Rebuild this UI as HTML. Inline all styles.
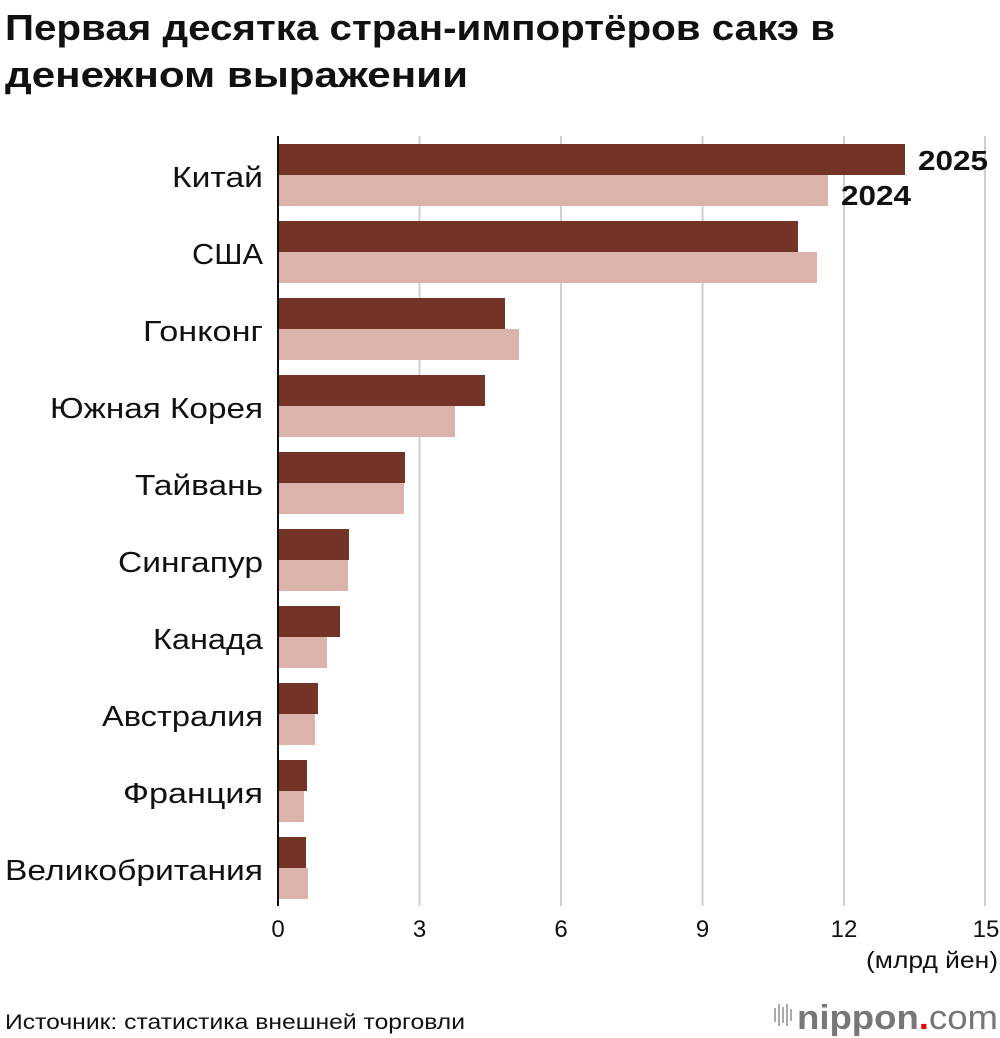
<!DOCTYPE html>
<html><head><meta charset="utf-8"><style>
html,body{margin:0;padding:0;background:#fff;}
svg{display:block;font-family:"Liberation Sans",sans-serif;}
</style></head><body>
<svg width="1000" height="1038" viewBox="0 0 1000 1038" xmlns="http://www.w3.org/2000/svg">
<text x="5" y="40" font-size="36" font-weight="bold" fill="#111" textLength="830" lengthAdjust="spacingAndGlyphs">Первая десятка стран-импортёров сакэ в</text>
<text x="5" y="87" font-size="36" font-weight="bold" fill="#111" textLength="463" lengthAdjust="spacingAndGlyphs">денежном выражении</text>
<g stroke="#cfcfcf" stroke-width="2">
<line x1="419.5" y1="136" x2="419.5" y2="906"/>
<line x1="561" y1="136" x2="561" y2="906"/>
<line x1="702.5" y1="136" x2="702.5" y2="906"/>
<line x1="844" y1="136" x2="844" y2="906"/>
<line x1="985" y1="136" x2="985" y2="906"/>
</g>
<g>
<rect x="279" y="144" width="626" height="31" fill="#733427"/><rect x="279" y="175" width="549" height="31" fill="#dbb3aa"/>
<rect x="279" y="221" width="519" height="31" fill="#733427"/><rect x="279" y="252" width="538" height="31" fill="#dbb3aa"/>
<rect x="279" y="298" width="226" height="31" fill="#733427"/><rect x="279" y="329" width="240" height="31" fill="#dbb3aa"/>
<rect x="279" y="375" width="206" height="31" fill="#733427"/><rect x="279" y="406" width="176" height="31" fill="#dbb3aa"/>
<rect x="279" y="452" width="126" height="31" fill="#733427"/><rect x="279" y="483" width="125" height="31" fill="#dbb3aa"/>
<rect x="279" y="529" width="70" height="31" fill="#733427"/><rect x="279" y="560" width="69" height="31" fill="#dbb3aa"/>
<rect x="279" y="606" width="61" height="31" fill="#733427"/><rect x="279" y="637" width="48" height="31" fill="#dbb3aa"/>
<rect x="279" y="683" width="39" height="31" fill="#733427"/><rect x="279" y="714" width="36" height="31" fill="#dbb3aa"/>
<rect x="279" y="760" width="28" height="31" fill="#733427"/><rect x="279" y="791" width="25" height="31" fill="#dbb3aa"/>
<rect x="279" y="837" width="27" height="31" fill="#733427"/><rect x="279" y="868" width="29" height="31" fill="#dbb3aa"/>
</g>
<line x1="278" y1="136" x2="278" y2="906" stroke="#111" stroke-width="2"/>
<text x="918" y="170" font-size="28" font-weight="bold" fill="#111" textLength="70" lengthAdjust="spacingAndGlyphs">2025</text>
<text x="841" y="205" font-size="28" font-weight="bold" fill="#111" textLength="70" lengthAdjust="spacingAndGlyphs">2024</text>
<g font-size="29" fill="#111" text-anchor="end" lengthAdjust="spacingAndGlyphs">
<text x="263" y="187" textLength="91" lengthAdjust="spacingAndGlyphs">Китай</text>
<text x="263" y="264" textLength="71" lengthAdjust="spacingAndGlyphs">США</text>
<text x="263" y="341" textLength="120" lengthAdjust="spacingAndGlyphs">Гонконг</text>
<text x="263" y="418" textLength="213" lengthAdjust="spacingAndGlyphs">Южная Корея</text>
<text x="263" y="495" textLength="128" lengthAdjust="spacingAndGlyphs">Тайвань</text>
<text x="263" y="572" textLength="145" lengthAdjust="spacingAndGlyphs">Сингапур</text>
<text x="263" y="649" textLength="110" lengthAdjust="spacingAndGlyphs">Канада</text>
<text x="263" y="726" textLength="161" lengthAdjust="spacingAndGlyphs">Австралия</text>
<text x="263" y="803" textLength="140" lengthAdjust="spacingAndGlyphs">Франция</text>
<text x="263" y="880" textLength="258" lengthAdjust="spacingAndGlyphs">Великобритания</text>
</g>
<g font-size="24" fill="#111" text-anchor="middle">
<text x="278" y="937">0</text>
<text x="419.5" y="937">3</text>
<text x="561" y="937">6</text>
<text x="702.5" y="937">9</text>
<text x="844" y="937">12</text>
<text x="986" y="937">15</text>
</g>
<text x="998" y="968" font-size="23" fill="#111" text-anchor="end" textLength="132" lengthAdjust="spacingAndGlyphs">(млрд йен)</text>
<text x="5" y="1029" font-size="21" fill="#111" textLength="460" lengthAdjust="spacingAndGlyphs">Источник: статистика внешней торговли</text>
<g fill="#aaa">
<rect x="774" y="1008" width="2" height="14"/><rect x="778" y="1004" width="2" height="22"/><rect x="782" y="1007" width="2" height="16"/><rect x="786" y="1004" width="2" height="22"/><rect x="790" y="1009" width="2" height="12"/>
</g>
<text x="797" y="1029" font-size="34" fill="#777" font-weight="bold" textLength="201" lengthAdjust="spacingAndGlyphs">nippon<tspan fill="#e00">.</tspan><tspan font-weight="normal">com</tspan></text>
</svg>
</body></html>
